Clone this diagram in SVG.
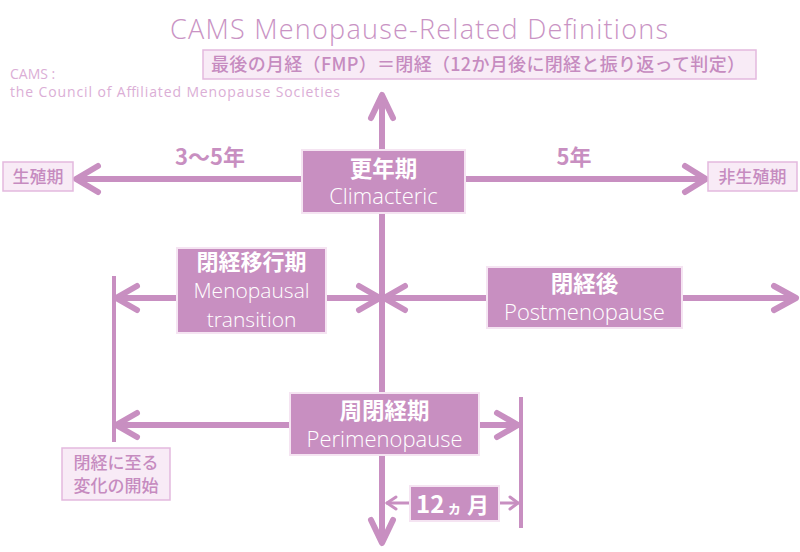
<svg xmlns="http://www.w3.org/2000/svg" width="800" height="552" viewBox="0 0 800 552">
<style>
.ln{stroke:#c88fc1;stroke-width:6;fill:none;stroke-linecap:butt}
.hd{stroke:#c88fc1;stroke-width:6;fill:none;stroke-linecap:round;stroke-linejoin:round}
.bar{stroke:#c88fc1;stroke-width:4;fill:none}
.thin{stroke:#c88fc1;stroke-width:3;fill:none;stroke-linecap:round;stroke-linejoin:round}
.box{fill:#c88fc1;stroke:#f5e4f2;stroke-width:2}
.lbox{fill:#f8ebf6;stroke:#e3b9de;stroke-width:1.5}
.jb{font-family:"Noto Sans CJK JP","Noto Sans",sans-serif;font-weight:700;fill:#fff}
.en{font-family:"Open Sans","Noto Sans",sans-serif;font-weight:300;fill:#fff}
.jl{font-family:"Noto Sans CJK JP","Noto Sans",sans-serif;font-weight:500;fill:#c68bc0}
.pl{font-family:"Noto Sans CJK JP","Noto Sans",sans-serif;font-weight:700;fill:#c88fc1}
</style>

<text x="419" y="39" text-anchor="middle" font-family="'Open Sans','Noto Sans',sans-serif" font-weight="300" font-size="27" fill="#c993c4" textLength="498">CAMS  Menopause-Related Definitions</text>
<g id="fmp">
<rect x="203" y="50" width="553" height="29" class="lbox"/>
<text x="478" y="71" text-anchor="middle" class="jl" font-weight="700" font-size="18" fill="#c08ab9" textLength="534">最後の月経（FMP）＝閉経（12か月後に閉経と振り返って判定）</text>
</g>
<g id="note" font-family="'Open Sans','Noto Sans',sans-serif" font-size="14" fill="#dbaed6">
<text x="10" y="79">CAMS :</text>
<text x="10" y="97" textLength="330">the Council of Affiliated Menopause Societies</text>
</g>

<g id="connectors">
<path class="ln" d="M382 96V542"/>
<path class="hd" d="M371 118L382 95L393 118"/>
<path class="hd" d="M371 520L382 543L393 520"/>
<path class="ln" d="M302 179H78"/>
<path class="hd" d="M98 166L76 179L98 192"/>
<path class="ln" d="M465 179H704"/>
<path class="hd" d="M685 166L706 179L685 192"/>
<path class="bar" d="M114 276V442"/>
<path class="bar" d="M521 397V528"/>
<path class="ln" d="M177 298H116"/>
<path class="hd" d="M137 286L116 298L137 310"/>
<path class="ln" d="M326 298H380"/>
<path class="hd" d="M359 286L380 298L359 310"/>
<path class="ln" d="M487 298H384"/>
<path class="hd" d="M405 286L384 298L405 310"/>
<path class="ln" d="M682 298H795"/>
<path class="hd" d="M774 286L796 298L774 310"/>
<path class="ln" d="M290 425H116"/>
<path class="hd" d="M137 413L116 425L137 437"/>
<path class="ln" d="M479 425H517"/>
<path class="hd" d="M497 413L518 425L497 437"/>
<path class="thin" d="M410 503H387"/>
<path class="thin" d="M396 497L387 503L396 509"/>
<path class="thin" d="M499 503H518"/>
<path class="thin" d="M510 497L518 503L510 509"/>
</g>

<text x="210" y="165" text-anchor="middle" class="pl" font-size="22">3〜5年</text>
<text x="574" y="165" text-anchor="middle" class="pl" font-size="22">5年</text>

<g id="reproductive">
<rect x="3" y="162" width="70" height="29" class="lbox"/>
<text x="38" y="183" text-anchor="middle" class="jl" font-size="17">生殖期</text>
</g>
<g id="nonreproductive">
<rect x="708" y="162" width="89" height="29" class="lbox"/>
<text x="752.5" y="183" text-anchor="middle" class="jl" font-size="17">非生殖期</text>
</g>
<g id="climacteric">
<rect x="302" y="150" width="163" height="63" class="box"/>
<text x="383.5" y="177" text-anchor="middle" class="jb" font-size="22.5">更年期</text>
<text x="383.5" y="204" text-anchor="middle" class="en" font-size="22">Climacteric</text>
</g>
<g id="transition">
<rect x="177" y="248" width="149" height="85" class="box"/>
<text x="251.5" y="270" text-anchor="middle" class="jb" font-size="22">閉経移行期</text>
<text x="251.5" y="298" text-anchor="middle" class="en" font-size="21">Menopausal</text>
<text x="251.5" y="327" text-anchor="middle" class="en" font-size="21">transition</text>
</g>
<g id="postmenopause">
<rect x="487" y="267" width="195" height="61" class="box"/>
<text x="584.5" y="292" text-anchor="middle" class="jb" font-size="22.5">閉経後</text>
<text x="584.5" y="320" text-anchor="middle" class="en" font-size="22">Postmenopause</text>
</g>
<g id="perimenopause">
<rect x="290" y="393" width="189" height="62" class="box"/>
<text x="384.5" y="419" text-anchor="middle" class="jb" font-size="22.5">周閉経期</text>
<text x="384.5" y="447" text-anchor="middle" class="en" font-size="22">Perimenopause</text>
</g>
<g id="onset">
<rect x="62" y="448" width="108" height="52" class="lbox"/>
<text x="116" y="469" text-anchor="middle" class="jl" font-size="17">閉経に至る</text>
<text x="116" y="492" text-anchor="middle" class="jl" font-size="17">変化の開始</text>
</g>
<g id="twelve">
<rect x="410" y="486" width="89" height="35" class="box"/>
<text class="jb"><tspan x="416" y="513" font-size="24">12</tspan><tspan x="447" y="513" font-size="15">ヵ</tspan><tspan x="467" y="513" font-size="22">月</tspan></text>
</g>
</svg>
